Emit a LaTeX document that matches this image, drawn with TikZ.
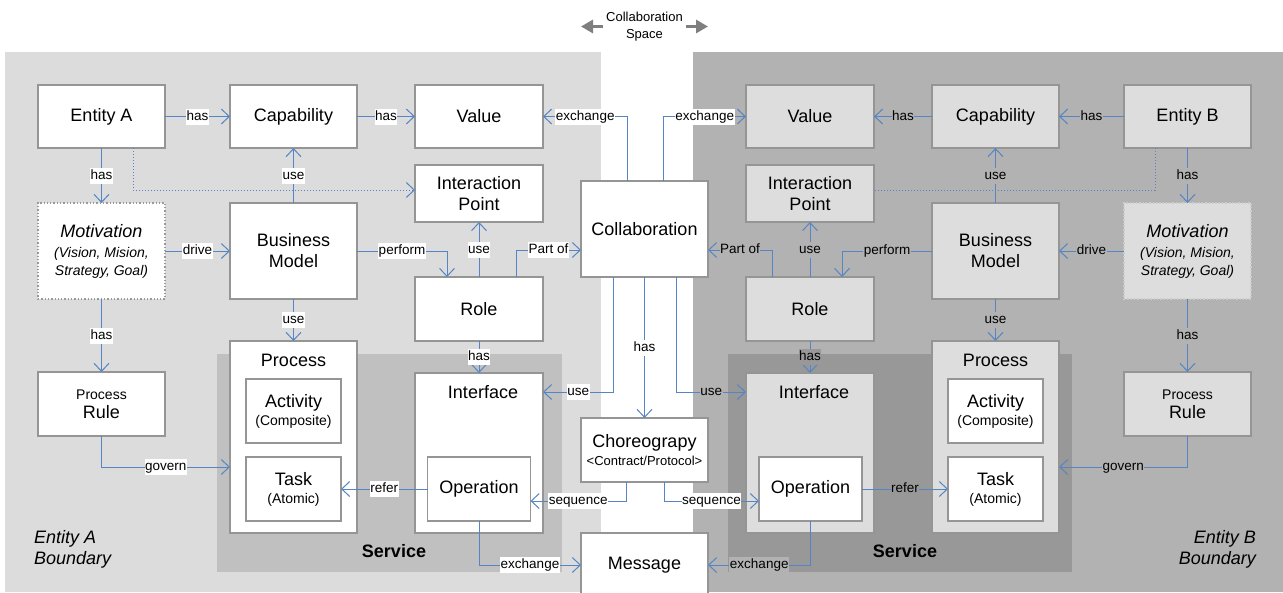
\documentclass[tikz,border=0pt]{standalone}
\usepackage{fontspec}
\setmainfont{Liberation Sans}
\usetikzlibrary{arrows.meta}
\definecolor{conncol}{HTML}{5585C4}
\definecolor{panelA}{HTML}{DCDCDC}
\definecolor{panelB}{HTML}{B2B2B2}
\definecolor{servA}{HTML}{C0C0C0}
\definecolor{servB}{HTML}{989898}
\definecolor{boxB}{HTML}{DDDDDD}
\definecolor{bordcol}{HTML}{959595}
\definecolor{arrgrey}{HTML}{7F7F7F}
\newcommand\fbig{\fontsize{18}{21}\selectfont}
\newcommand\fmid{\fontsize{14}{17}\selectfont}
\newcommand\fsml{\fontsize{13}{17}\selectfont}
\newcommand\flab{\fontsize{13.5}{17}\selectfont}
\begin{document}
\begin{tikzpicture}[x=1pt,y=-1pt,
  box/.style={draw=bordcol, line width=1.3pt, fill=white, inner sep=0pt, outer sep=0pt, align=center, font=\fbig},
  boxb/.style={box, fill=boxB},
  sz/.style 2 args={minimum width=#1, minimum height=#2},
  conn/.style={draw=conncol, line width=1pt, -{Straight Barb[length=8pt,width=15pt]}},
  dotconn/.style={draw=conncol, line width=1pt, dotted},
  lab/.style={fill=white, inner xsep=0.5pt, inner ysep=1.5pt, text height=10pt, text depth=3pt, font=\flab},
  labb/.style={lab, fill=panelB},
  labs/.style={lab, fill=servB},
  hdr/.style={font=\fbig, inner sep=0pt},
  garrow/.style={draw=arrgrey, line width=3pt, -{Triangle[length=12pt,width=13pt]}}
]
\useasboundingbox (0,0) rectangle (1283,592);
% panels
\fill[panelA] (5,52) rectangle (601,592);
\fill[panelB] (693,52) rectangle (1283,592);
\fill[servA] (217,354) rectangle (562,572);
\fill[servB] (728,354) rectangle (1072,572);
\node[font=\fbig\bfseries, inner sep=0pt] (svcA) at (394,551) {Service};
\node[font=\fbig\bfseries, inner sep=0pt] (svcB) at (905,551) {Service};
\node[font=\fbig\itshape, align=left, anchor=west, inner sep=0pt] (bndA) at (34,549) {Entity A\\Boundary};
\node[font=\fbig\itshape, align=right, anchor=east, inner sep=0pt] (bndB) at (1256,549) {Entity B\\Boundary};
% collaboration space
\node[font=\fsml, align=center, inner sep=0pt] (cspace) at (644.5,26.5) {Collaboration\\Space};
\coordinate (cspl) at (581,26.5);
\coordinate (cspr) at (708,26.5);
\draw[garrow] ([xshift=-3pt]cspace.west) -- (cspl);
\draw[garrow] ([xshift=3pt]cspace.east) -- (cspr);
% left boxes
\node[box, sz={127}{63}] (entA) at (101.5,116.5) {Entity A};
\node[box, sz={127}{63}] (capL) at (293.5,116.5) {Capability};
\node[box, sz={128}{63}] (valL) at (479,116.5) {Value};
\node[box, sz={128}{57}] (ipL) at (479,193.5) {Interaction\\Point};
\node[box, sz={127}{96}, draw=gray!80, dotted] (motL) at (101.5,251) {\fbig\itshape Motivation\\[-1pt]\fmid\itshape (Vision, Mision,\\[-3pt]\fmid\itshape Strategy, Goal)};
\node[box, sz={127}{96}] (bmL) at (293.5,251) {Business\\Model};
\node[box, sz={128}{64}] (roleL) at (479,309) {Role};
\node[box, sz={127}{192}] (procL) at (293.5,437) {};
\node[hdr] (procLt) at (293.5,360) {Process};
\node[box, sz={95}{64}] (actL) at (293.5,411) {Activity\\[-3pt]\fmid (Composite)};
\node[box, sz={95}{64}] (taskL) at (293.5,489) {Task\\[-3pt]\fmid (Atomic)};
\node[box, sz={128}{160}] (ifL) at (479,453) {};
\node[hdr] (ifLt) at (483,392) {Interface};
\node[box, sz={103}{64}] (opL) at (479,489) {Operation};
\node[box, sz={127}{64}] (ruleL) at (101.5,404) {\fmid Process\\[-2pt]Rule};
% center
\node[box, sz={127}{96}] (collab) at (644.5,229) {Collaboration};
\node[box, sz={127}{64}] (choreo) at (644.5,450) {Choreograpy\\[-3pt]\fsml <Contract/Protocol>};
\node[box, sz={127}{64}] (message) at (644.5,565) {Message};
% right boxes
\node[boxb, sz={128}{63}] (valR) at (810,116.5) {Value};
\node[boxb, sz={127}{63}] (capR) at (995.5,116.5) {Capability};
\node[boxb, sz={127}{63}] (entB) at (1187.5,116.5) {Entity B};
\node[boxb, sz={128}{57}] (ipR) at (810,193.5) {Interaction\\Point};
\node[boxb, sz={128}{64}] (roleR) at (810,309) {Role};
\node[boxb, sz={127}{96}] (bmR) at (995.5,251) {Business\\Model};
\node[boxb, sz={127}{96}, draw=gray!40, dotted] (motR) at (1187.5,251) {\fbig\itshape Motivation\\[-1pt]\fmid\itshape (Vision, Mision,\\[-3pt]\fmid\itshape Strategy, Goal)};
\node[boxb, sz={128}{160}] (ifR) at (810,453) {};
\node[hdr] (ifRt) at (814,392) {Interface};
\node[box, sz={103}{64}] (opR) at (810.5,489) {Operation};
\node[boxb, sz={127}{192}] (procR) at (995.5,437) {};
\node[hdr] (procRt) at (995.5,360) {Process};
\node[box, sz={95}{64}] (actR) at (995.5,411) {Activity\\[-3pt]\fmid (Composite)};
\node[box, sz={95}{64}] (taskR) at (995.5,489) {Task\\[-3pt]\fmid (Atomic)};
\node[boxb, sz={127}{64}] (ruleR) at (1187.5,404) {\fmid Process\\[-2pt]Rule};
% left connectors
\draw[conn] (entA) -- node[lab]{has} (capL);
\draw[conn] (capL) -- node[lab]{has} (valL);
\draw[conn] ([xshift=-17pt]collab.north) |- node[lab,pos=.75]{exchange} (valL.east);
\draw[conn] ([xshift=19pt]collab.north) |- node[lab,pos=.75]{exchange} (valR.west);
\draw[conn] (entA) -- node[lab]{has} (motL);
\draw[dotconn, -{Straight Barb[length=8pt,width=15pt]}] ([xshift=31.5pt]entA.south) |- ([yshift=3.5pt]ipL.west);
\draw[conn] (bmL) -- node[lab]{use} (capL);
\draw[conn] (motL) -- node[lab]{drive} (bmL);
\draw[conn] (bmL.east) -| node[lab,pos=.25]{perform} ([xshift=-32pt]roleL.north);
\draw[conn] (roleL) -- node[lab]{use} (ipL);
\draw[conn] ([xshift=37pt]roleL.north) |- node[lab,pos=.75]{Part of} ([yshift=-21pt]collab.west);
\draw[conn] (motL) -- node[lab]{has} (ruleL);
\draw[conn] (bmL) -- node[lab]{use} (procL);
\draw[conn] (roleL) -- node[lab]{has} (ifL);
\draw[conn] ([xshift=-31pt]collab.south) |- node[lab,pos=.75]{use} ([yshift=61pt]ifL.east);
\draw[conn] (collab) -- node[lab]{has} (choreo);
\draw[conn] ([xshift=32pt]collab.south) |- node[labb,pos=.75]{use} ([yshift=61pt]ifR.west);
\draw[conn] (ruleL.south) |- node[lab,pos=.75]{govern} ([yshift=-30pt]procL.west);
\draw[conn] (opL) -- node[lab]{refer} (taskL);
\draw[conn] ([xshift=-18.5pt]choreo.south) |- node[lab,pos=.75]{sequence} ([yshift=-12pt]opL.east);
\draw[conn] ([xshift=19.5pt]choreo.south) |- node[lab,pos=.75]{sequence} ([yshift=-12pt]opR.west);
\draw[conn] (opL.south) |- node[lab,pos=.75]{exchange} (message.west);
\draw[conn] (opR.south) |- node[labb,pos=.75]{exchange} (message.east);
% right connectors
\draw[conn] (capR) -- node[labb]{has} (valR);
\draw[conn] (entB) -- node[labb]{has} (capR);
\draw[dotconn] ([xshift=-32.5pt]entB.south) |- ([yshift=3.5pt]ipR.east);
\draw[conn] (entB) -- node[labb]{has} (motR);
\draw[conn] (bmR) -- node[labb]{use} (capR);
\draw[conn] (motR) -- node[labb]{drive} (bmR);
\draw[conn] (bmR.west) -| node[labb,pos=.25]{perform} ([xshift=32pt]roleR.north);
\draw[conn] (roleR) -- node[labb]{use} (ipR);
\draw[conn] ([xshift=-38pt]roleR.north) |- node[labb,pos=.75]{Part of} ([yshift=-21pt]collab.east);
\draw[conn] (motR) -- node[labb]{has} (ruleR);
\draw[conn] (bmR) -- node[labb]{use} (procR);
\draw[conn] (roleR) -- node[labs]{has} (ifR);
\draw[conn] (ruleR.south) |- node[labb,pos=.75]{govern} ([yshift=-30pt]procR.east);
\draw[conn] (opR) -- node[labs]{refer} (taskR);
\end{tikzpicture}
\end{document}
